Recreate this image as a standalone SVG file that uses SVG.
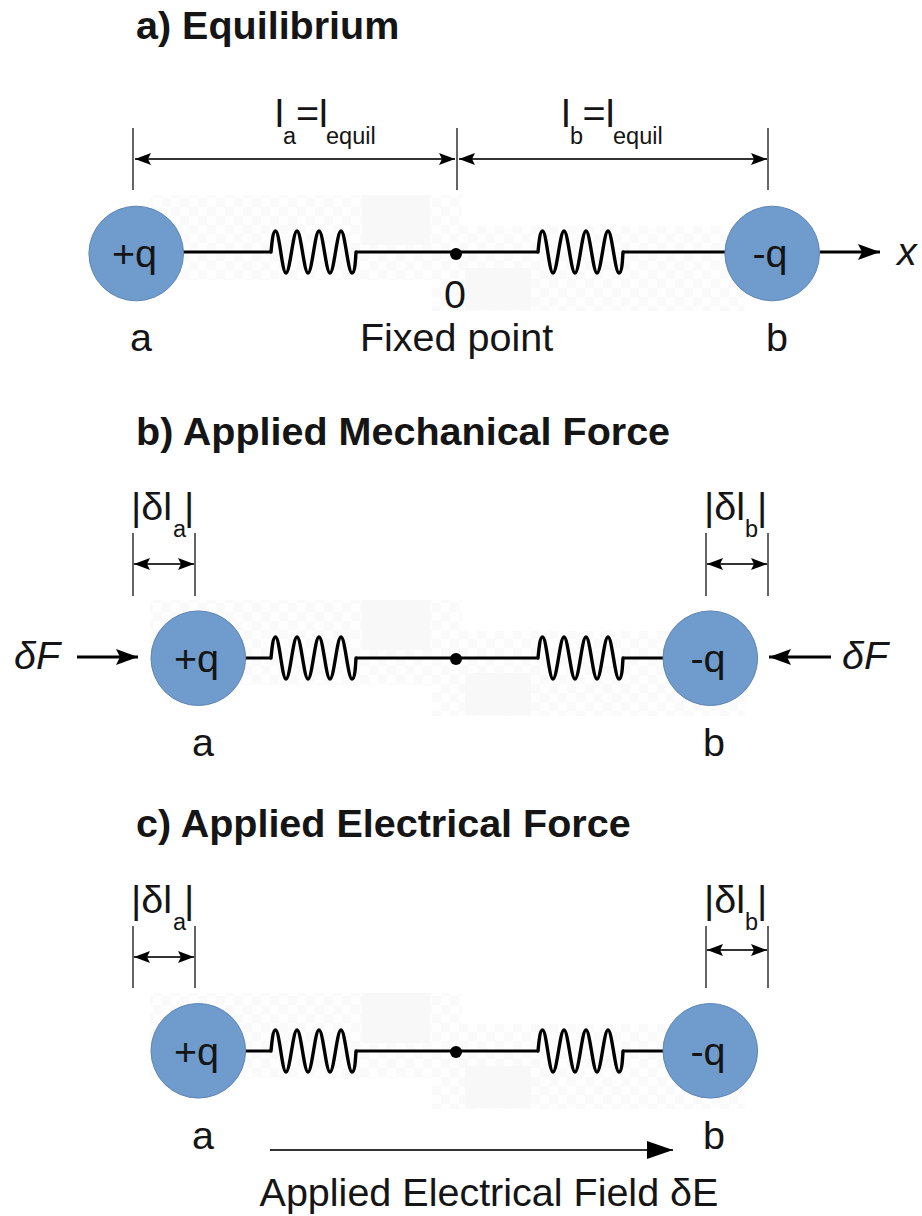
<svg xmlns="http://www.w3.org/2000/svg" width="922" height="1216" viewBox="0 0 922 1216">
<style>
text{font-family:"Liberation Sans",Arial,sans-serif;fill:#151515}
.title{font-size:39.500px;font-weight:700}
.lab{font-size:39.500px}
.q{font-size:39.500px;text-anchor:middle}
.sub{font-size:23.500px}
.it{font-style:italic;font-size:39.500px}
.ball{fill:#6f9bcd;stroke:#5f86b5;stroke-width:1}
.wire{fill:none;stroke:#000;stroke-width:3}
.spr{fill:none;stroke:#000;stroke-width:3.400}
.dim{fill:none;stroke:#333;stroke-width:1.800}
.tick{fill:none;stroke:#555;stroke-width:1.800}
.arr{fill:none;stroke:#000;stroke-width:3}
.ghost{fill:url(#chk)}
.patch{fill:#f8f8f8}
</style>
<defs>
<pattern id="chk" width="18" height="18" patternUnits="userSpaceOnUse"><rect width="18" height="18" fill="#fefefe"/><rect width="9" height="9" fill="#fafafa"/><rect x="9" y="9" width="9" height="9" fill="#fafafa"/></pattern>
<marker id="h" markerUnits="userSpaceOnUse" markerWidth="18" markerHeight="14" refX="16" refY="6" orient="auto-start-reverse"><path d="M0 0L16 6L0 12L3 6Z" fill="#000"/></marker>
<marker id="hb" markerUnits="userSpaceOnUse" markerWidth="24" markerHeight="18" refX="22" refY="8" orient="auto"><path d="M0 0L22 8L0 16L4 8Z" fill="#000"/></marker>
<marker id="hc" markerUnits="userSpaceOnUse" markerWidth="28" markerHeight="20" refX="26" refY="9" orient="auto"><path d="M0 0L26 9L0 18Z" fill="#000"/></marker>
<path id="spring" class="spr" stroke-linejoin="round" d="M0 0 L1 0 C2 -10 3 -21 5.500 -21 C9.500 -21 12 21 16 21 C20 21 23 -21 27 -21 C31 -21 34 21 38 21 C42 21 45 -21 49 -21 C53 -21 56 21 60 21 C64 21 67 -21 71 -21 C75 -21 78 21 82 21 C85 21 85.500 8 86 0 L87 0"/>
<g id="bg"><rect class="ghost" x="150" y="195" width="312" height="85"/><rect class="ghost" x="432" y="226" width="313" height="85"/><rect class="patch" x="362" y="195" width="68" height="50"/><rect class="patch" x="465" y="268" width="66" height="42"/></g>
</defs>

<use href="#bg"/>
<use href="#bg" y="405"/>
<use href="#bg" y="798"/>

<text class="title" x="136" y="39">a) Equilibrium</text>
<text class="title" x="136" y="445">b) Applied Mechanical Force</text>
<text class="title" x="136" y="837">c) Applied Electrical Force</text>

<g id="connectors">
<path class="wire" d="M183 252H270M357 252H537M624 252H726"/>
<use href="#spring" x="270" y="252"/><use href="#spring" x="537" y="252"/>
<path class="tick" d="M133 128V190M457 128V190M768 128V190"/>
<path class="dim" d="M135 159H455" marker-start="url(#h)" marker-end="url(#h)"/>
<path class="dim" d="M459 159H767" marker-start="url(#h)" marker-end="url(#h)"/>
<path class="arr" d="M820 252H880" marker-end="url(#hb)"/>

<path class="wire" d="M246 658H270M357 658H537M624 658H664"/>
<use href="#spring" x="270" y="658"/><use href="#spring" x="537" y="658"/>
<path class="tick" d="M133 533V596M195 533V596M706 533V596M768 533V596"/>
<path class="dim" d="M134 564H194" marker-start="url(#h)" marker-end="url(#h)"/>
<path class="dim" d="M707 564H767" marker-start="url(#h)" marker-end="url(#h)"/>
<path class="arr" d="M77 657H138" marker-end="url(#hb)"/>
<path class="arr" d="M831 657H769" marker-end="url(#hb)"/>

<path class="wire" d="M246 1051H270M357 1051H537M624 1051H664"/>
<use href="#spring" x="270" y="1051"/><use href="#spring" x="537" y="1051"/>
<path class="tick" d="M133 926V988M195 926V988M706 926V988M768 926V988"/>
<path class="dim" d="M134 957H194" marker-start="url(#h)" marker-end="url(#h)"/>
<path class="dim" d="M707 950H767" marker-start="url(#h)" marker-end="url(#h)"/>
<path class="dim" d="M270 1150H673" marker-end="url(#hc)"/>
</g>

<g id="node-a1"><circle class="ball" cx="136.200" cy="253.500" r="47.300"/><text class="q" x="134.500" y="267">+q</text></g>
<g id="node-b1"><circle class="ball" cx="772.200" cy="253.500" r="47.300"/><text class="q" x="770" y="267">-q</text></g>
<g id="fixed1"><circle cx="456" cy="254" r="6" fill="#000"/></g>
<g id="node-a2"><circle class="ball" cx="198.300" cy="658.200" r="47.300"/><text class="q" x="196.500" y="672">+q</text></g>
<g id="node-b2"><circle class="ball" cx="710.300" cy="658.200" r="47.300"/><text class="q" x="708" y="672">-q</text></g>
<g id="fixed2"><circle cx="456" cy="659" r="6" fill="#000"/></g>
<g id="node-a3"><circle class="ball" cx="198.300" cy="1050.800" r="47.300"/><text class="q" x="196.500" y="1065">+q</text></g>
<g id="node-b3"><circle class="ball" cx="710.300" cy="1050.800" r="47.300"/><text class="q" x="708" y="1065">-q</text></g>
<g id="fixed3"><circle cx="456" cy="1052" r="6" fill="#000"/></g>

<g id="labels">
<text class="lab" x="275" y="127">l</text><text class="sub" x="283" y="144">a</text><text class="lab" x="296" y="127">=l</text><text class="sub" x="326" y="144">equil</text>
<text class="lab" x="561.500" y="127">l</text><text class="sub" x="570" y="144">b</text><text class="lab" x="582.600" y="127">=l</text><text class="sub" x="613" y="144">equil</text>
<text class="it" x="897" y="265">x</text>
<text class="q" x="455" y="308">0</text>
<text class="q" x="456.500" y="351">Fixed point</text>
<text class="q" x="141" y="351">a</text>
<text class="q" x="777" y="351">b</text>

<text class="lab" x="131" y="520">|δl</text><text class="sub" x="173" y="537">a</text><text class="lab" x="184" y="520">|</text>
<text class="lab" x="704" y="520">|δl</text><text class="sub" x="745" y="537">b</text><text class="lab" x="757" y="520">|</text>
<text class="it" x="14" y="669">δF</text>
<text class="it" x="842" y="669">δF</text>
<text class="q" x="203" y="756">a</text>
<text class="q" x="714" y="756">b</text>

<text class="lab" x="131" y="913">|δl</text><text class="sub" x="173" y="930">a</text><text class="lab" x="184" y="913">|</text>
<text class="lab" x="704" y="913">|δl</text><text class="sub" x="745" y="930">b</text><text class="lab" x="757" y="913">|</text>
<text class="q" x="203" y="1149">a</text>
<text class="q" x="714" y="1149">b</text>
<text class="q" x="489" y="1206">Applied Electrical Field δE</text>
</g>
</svg>
